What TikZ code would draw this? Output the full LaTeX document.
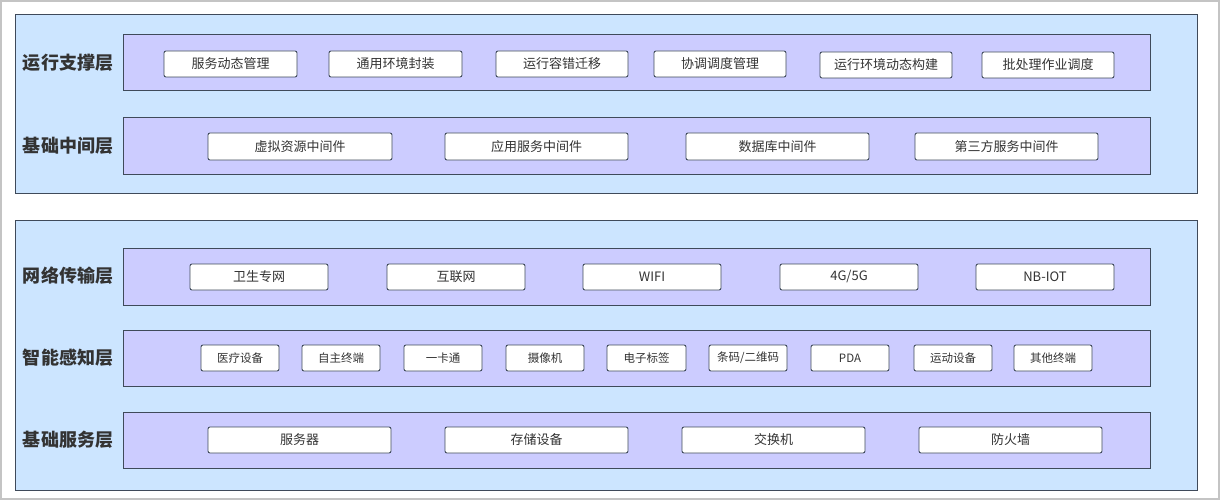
\documentclass[tikz,border=0pt]{standalone}
\usepackage{fontspec}
\setmainfont{Noto Sans CJK SC}
\newfontfamily\cjkb{Noto Sans CJK SC Bold}
\definecolor{panelblue}{HTML}{CCE5FF}
\definecolor{layerpurple}{HTML}{CCCCFF}
\definecolor{edgecol}{HTML}{3F4A5A}
\definecolor{txtcol}{HTML}{333333}
\definecolor{framecol}{HTML}{C4C4C4}
\begin{document}
\begin{tikzpicture}[x=1pt,y=-1pt,
  panel/.style={draw=edgecol,fill=panelblue,line width=1pt},
  layer/.style={draw=edgecol,fill=layerpurple,line width=1pt},
  item/.style={draw=edgecol,fill=white,line width=0.9pt,rounded corners=2pt},
  itemtxt/.style={text=txtcol,font=\fontsize{13}{13}\selectfont},
  smalltxt/.style={text=txtcol,font=\fontsize{11.5}{11.5}\selectfont},
  lbl/.style={text=txtcol,font=\fontsize{18}{18}\selectfont\bfseries}]
\useasboundingbox (0,0) rectangle (1220,500);
\fill[white] (0,0) rectangle (1220,500);
\draw[framecol,line width=1.2pt] (1,1) rectangle (1219,499);
% panels
\draw[panel] (15,15) rectangle (1197,193);
\draw[panel] (15,220) rectangle (1197,490);
% layers
\draw[layer] (123,35) rectangle (1150,91);
\draw[layer] (123,118) rectangle (1150,174);
\draw[layer] (123,248) rectangle (1150,305);
\draw[layer] (123,330) rectangle (1150,386);
\draw[layer] (123,412) rectangle (1150,468);
% labels
\node[lbl,anchor=center] (L1) at (68,63) {运行支撑层};
\node[lbl,anchor=center] (L2) at (68,146) {基础中间层};
\node[lbl,anchor=center] (L3) at (68,276) {网络传输层};
\node[lbl,anchor=center] (L4) at (68,358) {智能感知层};
\node[lbl,anchor=center] (L5) at (68,440) {基础服务层};
% layer 1
\newcommand\itembox[6]{%
  \draw[item] (#2,#3) rectangle (#4,#5);
  \node[itemtxt] (#1) at ({(#2+#4)/2},{(#3+#5)/2}) {#6};}
\newcommand\smallbox[6]{%
  \draw[item] (#2,#3) rectangle (#4,#5);
  \node[smalltxt] (#1) at ({(#2+#4)/2},{(#3+#5)/2}) {#6};}
\itembox{a1}{164}{51}{297}{77}{服务动态管理}
\itembox{a2}{329}{51}{462}{77}{通用环境封装}
\itembox{a3}{496}{51}{628}{77}{运行容错迁移}
\itembox{a4}{654}{51}{786}{77}{协调调度管理}
\itembox{a5}{820}{52}{952}{78}{运行环境动态构建}
\itembox{a6}{982}{52}{1114}{78}{批处理作业调度}
% layer 2
\itembox{b1}{208}{133}{392}{160}{虚拟资源中间件}
\itembox{b2}{445}{133}{628}{160}{应用服务中间件}
\itembox{b3}{686}{133}{869}{160}{数据库中间件}
\itembox{b4}{915}{133}{1098}{160}{第三方服务中间件}
% layer 3
\itembox{c1}{190}{264}{328}{290}{卫生专网}
\itembox{c2}{387}{264}{525}{290}{互联网}
\itembox{c3}{583}{264}{721}{290}{WIFI}
\itembox{c4}{780}{264}{918}{290}{4G/5G}
\itembox{c5}{976}{264}{1114}{290}{NB-IOT}
% layer 4
\smallbox{d1}{201}{345}{279}{371}{医疗设备}
\smallbox{d2}{302}{345}{380}{371}{自主终端}
\smallbox{d3}{404}{345}{482}{371}{一卡通}
\smallbox{d4}{506}{345}{584}{371}{摄像机}
\smallbox{d5}{607}{345}{686}{371}{电子标签}
\smallbox{d6}{709}{345}{787}{371}{条码/二维码}
\smallbox{d7}{811}{345}{889}{371}{PDA}
\smallbox{d8}{914}{345}{992}{371}{运动设备}
\smallbox{d9}{1014}{345}{1092}{371}{其他终端}
% layer 5
\itembox{e1}{208}{427}{391}{453}{服务器}
\itembox{e2}{445}{427}{628}{453}{存储设备}
\itembox{e3}{682}{427}{865}{453}{交换机}
\itembox{e4}{919}{427}{1102}{453}{防火墙}
\end{tikzpicture}
\end{document}
